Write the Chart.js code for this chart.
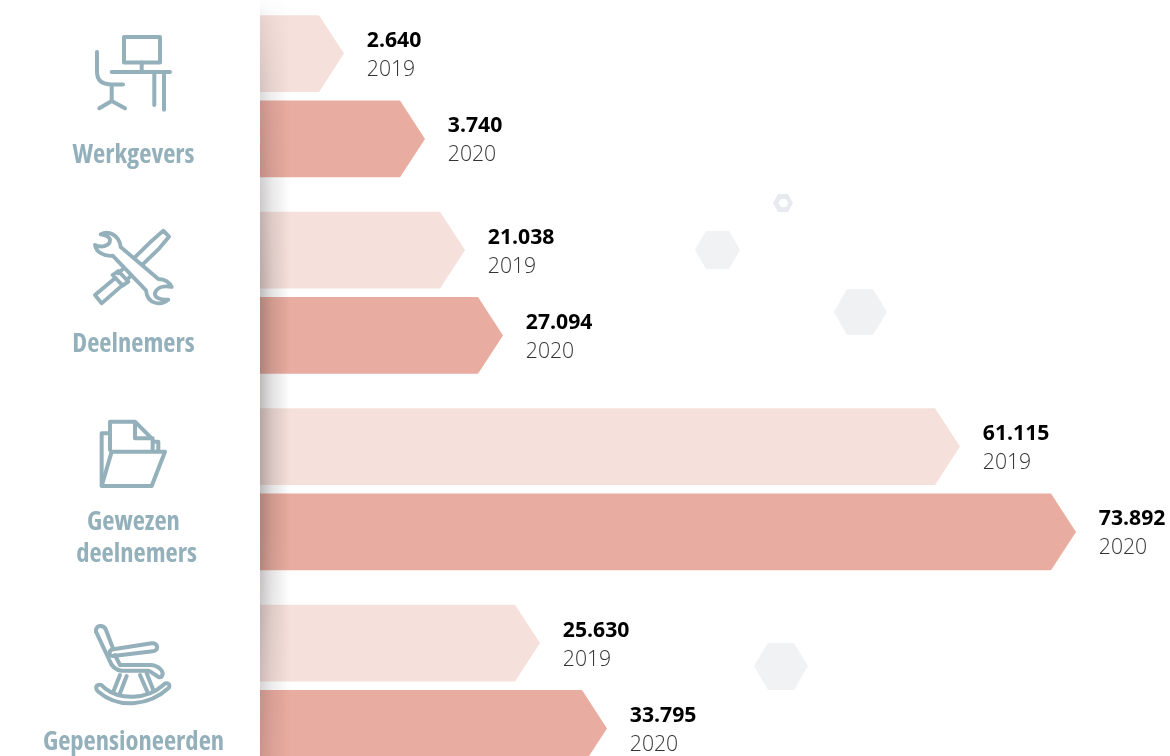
<!DOCTYPE html>
<html>
<head>
<meta charset="utf-8">
<script src="https://cdn.jsdelivr.net/npm/chart.js@4"></script>
<style>
  html, body { margin: 0; height: 100%; background: #fff; overflow: hidden; }
  #decor { position: absolute; left: 0; top: 0; }
  #myChart { position: absolute; left: 0; top: -2px; }
  #decor .icon { fill: none; stroke: #93b0bb; stroke-linecap: round; stroke-linejoin: round; }
</style>
</head>
<body>
<svg id="decor" width="1170" height="756">
  <!-- hexagons -->
  <polygon points="773,203 778,194 788,194 793,203 788,212 778,212" fill="#e8eaef"/>
  <polygon points="778.5,203 781,199 786,199 788.5,203 786,207 781,207" fill="#fff"/>
  <polygon points="695,250 706,231 729,231 740,250 729,269 706,269" fill="#f1f2f4"/>
  <polygon points="834,312 847,289 873,289 887,312 873,335 847,335" fill="#f0f1f3"/>
  <polygon points="754,666 768,643 794,643 808,666 794,690 768,690" fill="#f1f2f4"/>
  <!-- desk -->
  <g class="icon" stroke-width="4">
    <rect x="124" y="37" width="36" height="25.5"/>
    <path d="M141.7 62.5V72M111.7 72H170M154.3 72V105M164 72V109.7"/>
    <path d="M97 52V72Q97 84.5 112 84.5H123M111.7 84.5V101M99.3 108.3L111.7 101L125 108.3"/>
  </g>
  <!-- tools -->
  <g class="icon" stroke-width="11.5" transform="translate(60 215) scale(.3333)">
    <path d="M275 78L310 47L327 65L298 100L205 190M275 78L175 175M158 180L175 168L205 200L188 212ZM165 190L105 240L125 265L190 208"/>
    <path fill="#fff" d="M122 58C145 45 178 60 182 96L295 192C315 192 330 203 335 216C315 212 292 215 285 234C282 248 302 256 325 254C305 272 262 270 258 226L158 122C130 125 108 110 105 90C125 100 150 92 150 76C150 66 135 60 122 58Z"/>
  </g>
  <!-- folder -->
  <g class="icon" stroke-width="12" transform="translate(60 410) scale(.3333)">
    <path d="M150 120V35H225L278 88V122M225 35V85H278M150 70H125V225M278 95H295V122"/>
    <path d="M125 228H275L315 125H155Z"/>
  </g>
  <!-- rocking chair -->
  <g class="icon" stroke-width="12" transform="translate(30 610) scale(.3333)">
    <path d="M198 65C195 45 222 42 228 60L250 118L365 100C385 98 388 122 368 124L250 138C235 140 235 120 250 118"/>
    <path d="M198 65L238 150C245 170 255 180 275 182L355 182C375 190 385 208 395 200C405 185 385 165 360 165L270 165L255 135"/>
    <path d="M270 195L250 245M290 198L270 250M330 195L352 245M350 190L370 240"/>
    <path d="M205 225C195 228 198 240 205 245C270 300 360 285 415 235C425 225 410 212 400 225C350 270 270 270 225 235C215 225 212 222 205 225Z"/>
  </g>
</svg>
<canvas id="myChart" width="1170" height="786"></canvas>
<script>
// labels on the bars
const categories = [['Werkgevers'], ['Deelnemers'], ['Gewezen', 'deelnemers'], ['Gepensioneerden']];
const years = ['2019', '2020'];
const values2019 = ['2.640', '21.038', '61.115', '25.630'];
const values2020 = ['3.740', '27.094', '73.892', '33.795'];

// bar lengths as drawn in the picture, they are not proportional to the values above
const lengths2019 = [84, 205, 700, 280];
const lengths2020 = [165, 243, 816, 347];

const labelOffsets = [64.6, 57.5, 39, 62];
const tipSize = 25;

// bars with an arrow point
Chart.BarElement.prototype.draw = function (c) {
    const { x, y, base, height } = this.getProps(['x', 'y', 'base', 'height']);
    c.save();
    c.fillStyle = this.options.backgroundColor;
    c.beginPath();
    c.moveTo(base, y - height / 2);
    c.lineTo(x - tipSize, y - height / 2);
    c.lineTo(x, y);
    c.lineTo(x - tipSize, y + height / 2);
    c.lineTo(base, y + height / 2);
    c.closePath();
    c.fill();
    c.restore();
};

// shadow along the left edge, faint at the top and strongest in the middle
function makeShadow(w, h) {
    const cv = document.createElement('canvas');
    cv.width = w;
    cv.height = h;
    const s = cv.getContext('2d');
    let g = s.createLinearGradient(0, 0, w, 0);
    g.addColorStop(0, 'rgba(50,40,40,0.32)');
    g.addColorStop(0.4, 'rgba(50,40,40,0.14)');
    g.addColorStop(1, 'rgba(50,40,40,0)');
    s.fillStyle = g;
    s.fillRect(0, 0, w, h);
    s.globalCompositeOperation = 'destination-in';
    g = s.createLinearGradient(0, 0, 0, h);
    g.addColorStop(0, 'rgba(0,0,0,0)');
    g.addColorStop(0.03, 'rgba(0,0,0,0.25)');
    g.addColorStop(0.15, 'rgba(0,0,0,0.6)');
    g.addColorStop(0.4, 'rgba(0,0,0,1)');
    g.addColorStop(0.68, 'rgba(0,0,0,1)');
    g.addColorStop(0.85, 'rgba(0,0,0,0.65)');
    g.addColorStop(1, 'rgba(0,0,0,0.5)');
    s.fillStyle = g;
    s.fillRect(0, 0, w, h);
    return cv;
}

const barText = {
    id: 'barText',
    afterDatasetsDraw(chart) {
        const c = chart.ctx;
        const area = chart.chartArea;

        c.drawImage(makeShadow(30, 786), area.left, 0);

        c.textBaseline = 'alphabetic';
        c.textAlign = 'left';
        chart.data.datasets.forEach((ds, i) => {
            chart.getDatasetMeta(i).data.forEach((bar, j) => {
                c.fillStyle = '#000';
                c.font = '700 21.2px "Open Sans"';
                c.fillText(ds.valueLabels[j], bar.x + 22.8, bar.y - 6.6);
                c.fillStyle = '#333';
                c.font = '300 21.2px "Open Sans"';
                c.fillText(ds.label, bar.x + 22.8, bar.y + 22.4);
            });
        });

        // category names below the icons
        const yScale = chart.scales.y;
        c.fillStyle = '#93b0bb';
        c.textAlign = 'center';
        c.font = '700 26.6px "Open Sans"';
        c.fontStretch = 'condensed';
        categories.forEach((lines, i) => {
            lines.forEach((t, k) => {
                c.fillText(t, 133.5 + k * 3, yScale.getPixelForValue(i) + 2 + labelOffsets[i] + k * 32);
            });
        });
    }
};

let ctx = document.getElementById('myChart');

let myChart = new Chart(ctx, {
    type: 'bar',
    data: {
        labels: categories.map(l => l.join(' ')),
        datasets: [
            {
                label: years[0],
                data: lengths2019,
                valueLabels: values2019,
                backgroundColor: '#f5e0db'
            },
            {
                label: years[1],
                data: lengths2020,
                valueLabels: values2020,
                backgroundColor: '#e9aca0'
            }
        ]
    },
    options: {
        indexAxis: 'y',
        responsive: false,
        animation: false,
        categoryPercentage: 0.868,
        barPercentage: 0.9,
        layout: { padding: { left: 260 } },
        plugins: { legend: { display: false }, tooltip: { enabled: false } },
        scales: {
            x: { display: false, min: 0, max: 910 },
            y: { display: false }
        }
    },
    plugins: [barText]
});
</script>
</body>
</html>
